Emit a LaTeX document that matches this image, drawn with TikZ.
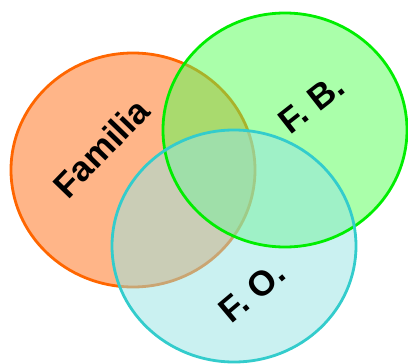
\documentclass[tikz,border=0pt]{standalone}
\usepackage{fontspec}
\setmainfont{Liberation Sans}
\definecolor{famfill}{RGB}{255,150,85}
\definecolor{famline}{RGB}{255,102,0}
\definecolor{fbfill}{RGB}{85,255,85}
\definecolor{fbline}{RGB}{0,238,0}
\definecolor{fofill}{RGB}{150,228,228}
\definecolor{foline}{RGB}{51,204,204}
\tikzset{
  setlabel/.style={font=\fontsize{35}{42}\selectfont\bfseries, text=black, inner sep=0pt}
}
\begin{document}
\begin{tikzpicture}[x=1pt,y=-1pt]

    \useasboundingbox (0,0) rectangle (408,364);

    % Circles
    \fill[famfill, fill opacity=0.7] (133,170) ellipse [x radius=122, y radius=117];
    \draw[famline, line width=2.8pt] (133,170) ellipse [x radius=122, y radius=117];
    \fill[fbfill, fill opacity=0.5] (285,130) ellipse [x radius=122, y radius=117];
    \fill[fofill, fill opacity=0.5] (234,246) ellipse [x radius=122, y radius=116];
    \draw[fbline, line width=2.8pt] (285,130) ellipse [x radius=122, y radius=117];
    \draw[foline, line width=2.8pt] (234,246) ellipse [x radius=122, y radius=116];

    % Labels
    \node[setlabel, rotate=46] (familia) at (101,148) {Familia};
    \node[setlabel, rotate=38] (fb) at (311,104) {F. B.};
    \node[setlabel, rotate=40] (fo) at (252,292) {F. O.};

\end{tikzpicture}
\end{document}
